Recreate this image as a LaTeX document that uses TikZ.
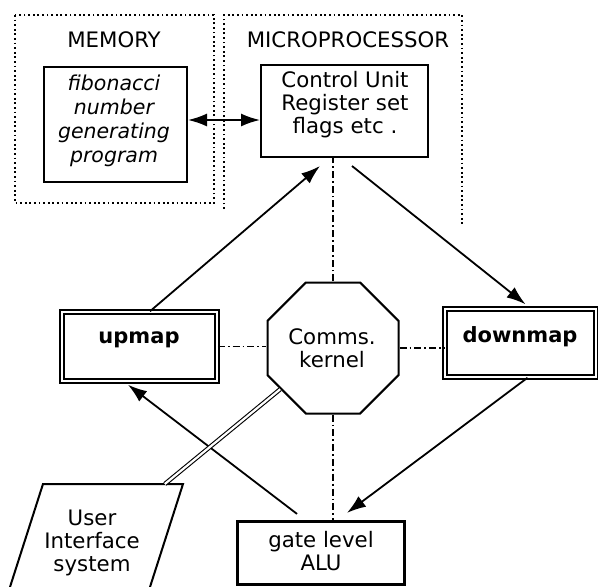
\documentclass[tikz,border=0pt]{standalone}
\usepackage{fontspec}
\setmainfont{DejaVu Sans}
\usetikzlibrary{arrows.meta,shapes.geometric,calc}
\begin{document}
\begin{tikzpicture}[x=1pt,y=-1pt,
  >={Latex[length=19pt,width=13pt]},
  every node/.style={inner sep=0pt, font=\fontsize{21.3}{23}\selectfont},
  txt/.style={align=center},
  boldtxt/.style={font=\bfseries\fontsize{21}{23}\selectfont},
  plainbox/.style={draw, line width=2pt},
  dblbox/.style={draw, double, line width=1.5pt, double distance=2.4pt},
  arr/.style={line width=1.8pt, ->},
  dd/.style={line width=1.6pt, dash pattern=on 7pt off 3pt on 1.8pt off 3pt},
  dotframe/.style={line width=1.8pt, dash pattern=on 1.8pt off 2.8pt},
  dblline/.style={double, line width=1.1pt, double distance=2.2pt}
]
\useasboundingbox (0,0) rectangle (598,587);

% dotted frames
\draw[dotframe] (15,15) rectangle (214,203);
\draw[dotframe] (224,209) -- (224,15) -- (462,15) -- (462,225);
\node (memlbl) at (114,40) {MEMORY};
\node (mplbl) at (348,40) {MICROPROCESSOR};

% boxes
\node[plainbox, minimum width=143pt, minimum height=115pt] (fib) at (115.5,124.5) {};
\node[txt, font=\itshape\fontsize{20.5}{24}\selectfont] (fibtxt) at (114,121) {fibonacci\\number\\generating\\program};

\node[plainbox, minimum width=167pt, minimum height=92pt] (cu) at (344.5,111) {};
\node[txt] (cutxt) at (345,105) {Control Unit\\Register set\\flags etc .};

\node[dblbox, minimum width=155pt, minimum height=69pt] (up) at (139.5,346.5) {};
\node[boldtxt] (uptxt) at (139,340) {upmap};

\node[dblbox, minimum width=151pt, minimum height=68pt] (down) at (520.5,343) {};
\node[boldtxt] (downtxt) at (520,337) {downmap};

\node[draw, line width=2pt, regular polygon, regular polygon sides=8, minimum size=141.8pt] (oct) at (333,348) {};
\node[txt] (octtxt) at (332,348) {Comms.\\kernel};

\node[draw, line width=3.2pt, minimum width=167pt, minimum height=63pt] (alu) at (321,553) {};
\node[txt] (alutxt) at (321,551) {gate level\\ALU};

% user interface parallelogram (cut by the lower edge)
\coordinate (uibl) at (10,587);
\coordinate (uitl) at (43,484);
\coordinate (uitr) at (183,484);
\coordinate (uibr) at (150,587);
\draw[line width=2pt] (uibl) -- (uitl) -- (uitr) -- (uibr);
\node[txt] (ui) at (92,543) {User\\Interface\\system};
\coordinate (uitop) at ($(uitl)!0.87!(uitr)$);

% connectors
\draw[line width=1.8pt, <->] ([yshift=4.5pt]fib.east) -- ([yshift=-9pt]cu.west);
\draw[arr] ([xshift=10.5pt]up.north) -- ([xshift=-24.5pt,yshift=-8pt]cu.south);
\draw[arr] ([xshift=7.5pt,yshift=-8pt]cu.south) -- ([xshift=5pt,yshift=4pt]down.north);
\draw[arr] ([xshift=7pt]down.south) -- ([xshift=26pt,yshift=7pt]alu.north);
\draw[arr] ([xshift=-24pt,yshift=6pt]alu.north) -- ([xshift=-11.5pt,yshift=-3pt]up.south);

\draw[dd] (oct.north) -- (oct.north |- cu.south);
\draw[dd] (oct.south) -- (oct.south |- alu.north);
\draw[dd] (up.east) -- (up.east -| oct.west);
\draw[dd] (oct.east) -- (oct.east -| down.west);

\draw[dblline] (uitop) -- (oct.218);
\end{tikzpicture}
\end{document}
